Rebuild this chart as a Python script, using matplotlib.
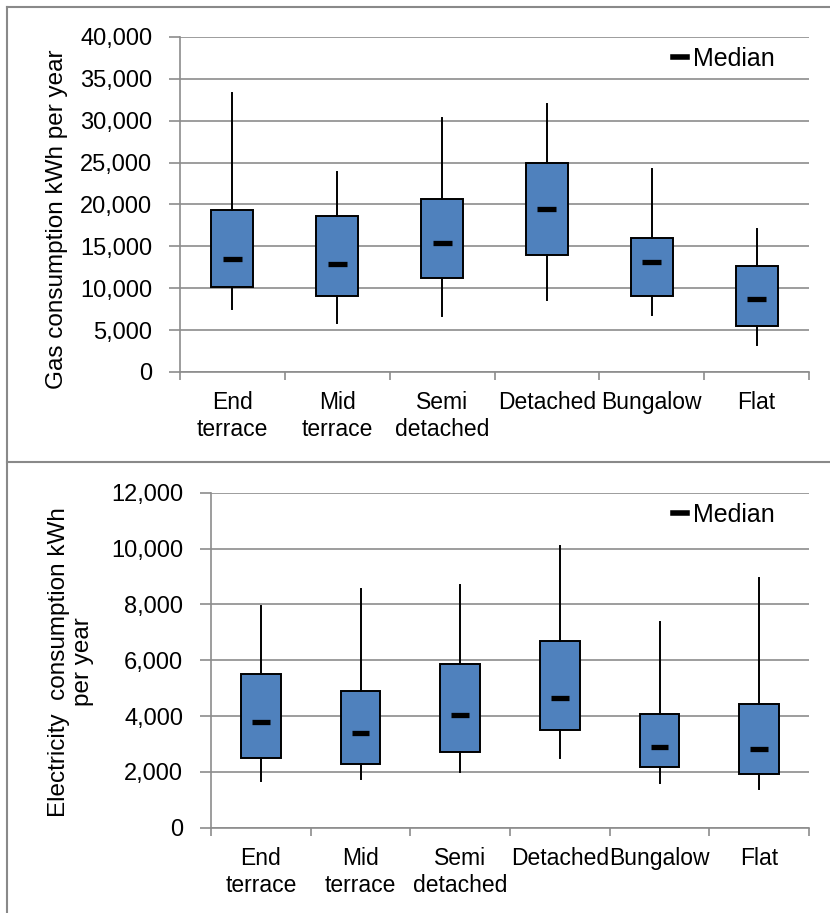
import matplotlib
matplotlib.use('Agg')
import matplotlib.pyplot as plt
from matplotlib.lines import Line2D

plt.rcParams['font.family'] = ['Liberation Sans', 'DejaVu Sans']

# house types
cats = ['End\nterrace', 'Mid\nterrace', 'Semi\ndetached', 'Detached', 'Bungalow', 'Flat']

# gas consumption kWh per year: whisker low, lower quartile, median, upper quartile, whisker high
gas_low = [7500, 5850, 6700, 8600, 6800, 3200]
gas_q1 = [10100, 9100, 11200, 14000, 9100, 5500]
gas_med = [13450, 12900, 15450, 19450, 13150, 8750]
gas_q3 = [19300, 18600, 20700, 24900, 16000, 12650]
gas_high = [33300, 23900, 30300, 32000, 24200, 17100]

# electricity consumption kWh per year
elec_low = [1670, 1730, 2000, 2500, 1610, 1370]
elec_q1 = [2480, 2270, 2720, 3490, 2170, 1920]
elec_med = [3780, 3390, 4020, 4630, 2900, 2830]
elec_q3 = [5500, 4880, 5850, 6690, 4080, 4420]
elec_high = [7940, 8540, 8680, 10090, 7380, 8930]

gas_ticks = [0, 5000, 10000, 15000, 20000, 25000, 30000, 35000, 40000]
elec_ticks = [0, 2000, 4000, 6000, 8000, 10000, 12000]

W, H = 830, 913
fig = plt.figure(figsize=(W / 100, H / 100), dpi=100)
grey = '#8c8c8c'
blue = '#4f81bd'


def panel(rect, low, q1, med, q3, high, ticks, legend_x):
    ax = fig.add_axes(rect)
    stats = []
    for i in range(len(cats)):
        stats.append({'whislo': low[i], 'q1': q1[i], 'med': med[i], 'q3': q3[i], 'whishi': high[i]})
    pos = list(range(len(cats)))
    ax.bxp(stats, positions=pos, widths=0.4, patch_artist=True, showcaps=False, showfliers=False,
           boxprops=dict(facecolor=blue, edgecolor='black', linewidth=1.4),
           whiskerprops=dict(color='black', linewidth=1.4),
           medianprops=dict(visible=False))
    # short thick median bars
    ax.hlines(med, [p - 0.09 for p in pos], [p + 0.09 for p in pos], colors='black', linewidth=3.8, zorder=4)

    ax.set_xlim(-0.5, len(cats) - 0.5)
    ax.set_ylim(ticks[0], ticks[-1])
    ax.set_yticks(ticks)
    ax.set_yticklabels(['{:,}'.format(t) for t in ticks])
    ax.set_xticks(pos)
    ax.set_xticklabels(cats)
    ax.set_xticks([p - 0.5 for p in pos] + [len(cats) - 0.5], minor=True)
    ax.tick_params(axis='x', which='major', length=0, pad=14, labelsize=16.5)
    ax.tick_params(axis='x', which='minor', length=6, width=1.2, color=grey)
    ax.tick_params(axis='y', length=8, width=1.2, color=grey, pad=12, labelsize=17)
    ax.grid(axis='y', color=grey, linewidth=1.2)
    ax.set_axisbelow(True)
    for s in ['top', 'right']:
        ax.spines[s].set_visible(False)
    for s in ['left', 'bottom']:
        ax.spines[s].set_color(grey)
        ax.spines[s].set_linewidth(1.2)

    h = Line2D([], [], color='black', linewidth=4)
    ax.legend([h], ['Median'], loc='upper right', bbox_to_anchor=(legend_x, 1.0), borderaxespad=0,
              frameon=False, fontsize=18, handlelength=0.55, handletextpad=0.25)
    return ax


# gas panel
ax1 = panel([180 / W, 1 - 372 / H, 629 / W, 335 / H], gas_low, gas_q1, gas_med, gas_q3, gas_high,
            gas_ticks, 0.962)
fig.text(57 / W, 1 - 219 / H, 'Gas consumption kWh per year', rotation=90, ha='center', va='center',
         fontsize=17.5)

# electricity panel
ax2 = panel([211 / W, 1 - 827.7 / H, 598 / W, 335 / H], elec_low, elec_q1, elec_med, elec_q3, elec_high,
            elec_ticks, 0.96)
fig.text(71 / W, 1 - 662 / H, 'Electricity  consumption kWh\nper year', rotation=90, ha='center',
         va='center', fontsize=17.5, linespacing=1.15)

# panel frames
for xs, ys in [([7 / W, 1], [1 - 7 / H, 1 - 7 / H]),
               ([7 / W, 7 / W], [1 - 7 / H, 0]),
               ([7 / W, 1], [1 - 462 / H, 1 - 462 / H])]:
    fig.add_artist(Line2D(xs, ys, transform=fig.transFigure, color='#898989', linewidth=1.5))

plt.savefig('out.png', dpi=100)
